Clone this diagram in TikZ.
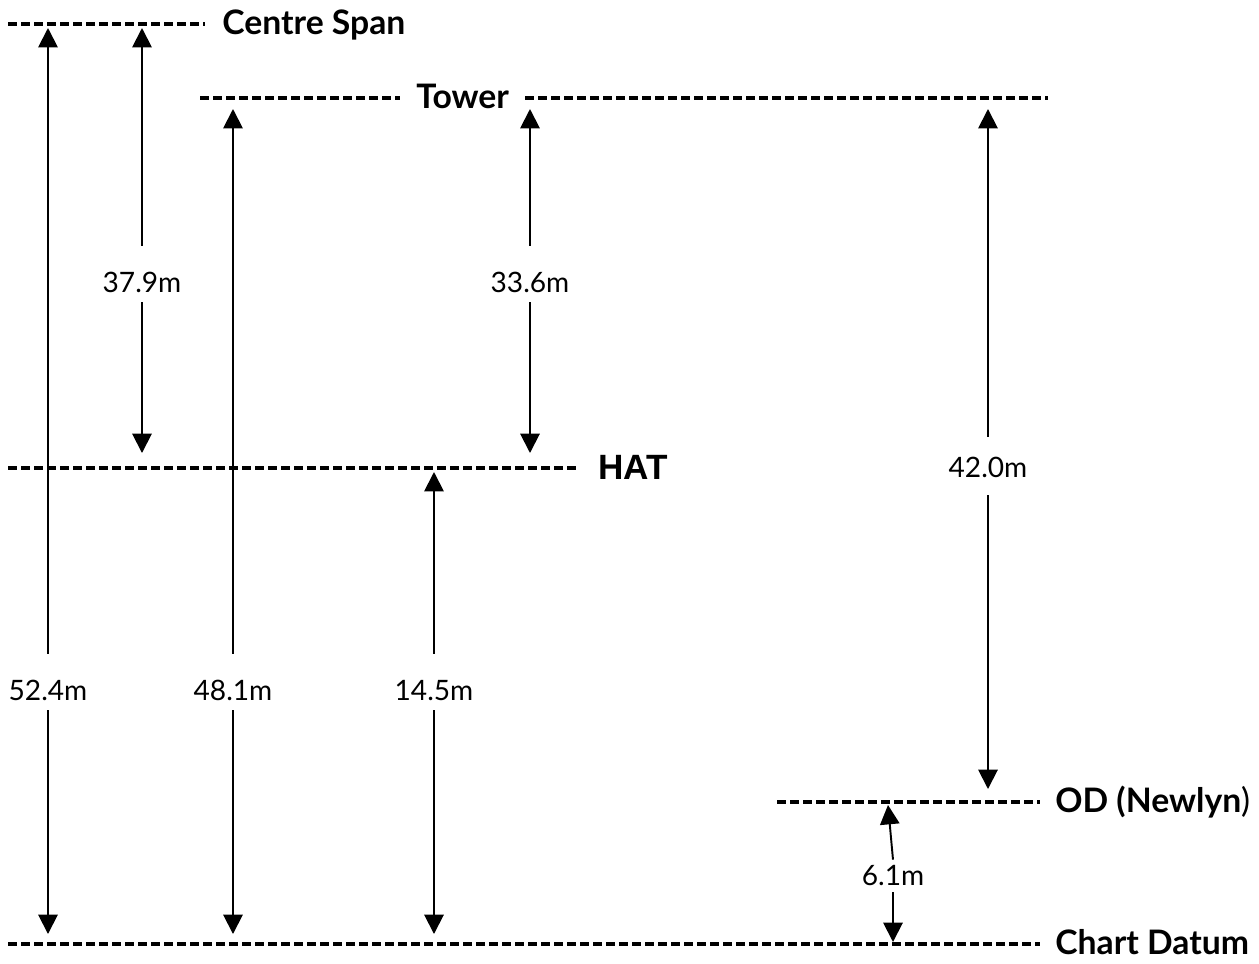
\documentclass[tikz,border=0pt]{standalone}
\usepackage{fontspec}
\setmainfont{Lato}
\newfontfamily\hatfont{Liberation Sans}
\usetikzlibrary{arrows.meta}
\tikzset{
  datum/.style={line width=2.5pt, dash pattern=on 5pt off 2.4pt},
  dim/.style={line width=1.1pt, -{Triangle[width=11pt,length=11pt]}},
  lvl/.style={font=\fontsize{19.2}{21}\selectfont\bfseries, inner sep=0pt, anchor=base west},
  dimlabel/.style={font=\fontsize{16}{18}\selectfont, inner sep=0pt, text height=0.92cm, text depth=0.2cm, anchor=base}
}

\begin{document}
\begin{tikzpicture}[x=0.02cm, y=-0.02cm]
\useasboundingbox (0,0) rectangle (1259,964);
\coordinate (cs) at (0,24);
\coordinate (tw) at (0,98);
\coordinate (ht) at (0,468);
\coordinate (od) at (0,802);
\coordinate (cd) at (0,944);
\coordinate (odtip) at (888,805);
% levels
\draw[datum] (8,24) -- (205,24);
\node[lvl] (cspan) at (222,34) {Centre Span};
\draw[datum] (200,98) -- (400,98);
\node[lvl] (tower) at (416,108) {Tower};
\draw[datum] (525,98) -- (1048,98);
\draw[datum] (8,468) -- (578,468);
\node[lvl, font=\fontsize{20}{22}\selectfont\bfseries\hatfont] (hat) at (598,479) {HAT};
\draw[datum] (777,802) -- (1040,802);
\node[lvl] (newlyn) at (1055,812) {OD (Newlyn\mdseries)};
\draw[datum] (8,944) -- (1040,944);
\node[lvl] (chart) at (1055,954) {Chart Datum};
% heights
\node[dimlabel] (m524) at (48,700) {52.4m};
\draw[dim, shorten >=0.08cm] (m524.north) -- (m524 |- cs);
\draw[dim, shorten >=0.2cm] (m524.south) -- (m524 |- cd);
\node[dimlabel] (m379) at (142,292) {37.9m};
\draw[dim, shorten >=0.08cm] (m379.north) -- (m379 |- cs);
\draw[dim, shorten >=0.3cm] (m379.south) -- (m379 |- ht);
\node[dimlabel] (m481) at (233,700) {48.1m};
\draw[dim, shorten >=0.22cm] (m481.north) -- (m481 |- tw);
\draw[dim, shorten >=0.2cm] (m481.south) -- (m481 |- cd);
\node[dimlabel] (m145) at (434,700) {14.5m};
\draw[dim, shorten >=0.08cm] (m145.north) -- (m145 |- ht);
\draw[dim, shorten >=0.2cm] (m145.south) -- (m145 |- cd);
\node[dimlabel] (m336) at (530,292) {33.6m};
\draw[dim, shorten >=0.22cm] (m336.north) -- (m336 |- tw);
\draw[dim, shorten >=0.3cm] (m336.south) -- (m336 |- ht);
\node[dimlabel, text height=0.8cm, text depth=0.36cm] (m420) at (988,477) {42.0m};
\draw[dim, shorten >=0.22cm] (m420.north) -- (m420 |- tw);
\draw[dim, shorten >=0.26cm] (m420.south) -- (m420 |- od);
\node[dimlabel, text height=0.5cm, text depth=0.14cm] (m61) at (893,885) {6.1m};
\draw[dim] (m61.north) -- (odtip);
\draw[dim, shorten >=0.04cm] (m61.south) -- (m61 |- cd);
\end{tikzpicture}
\end{document}
